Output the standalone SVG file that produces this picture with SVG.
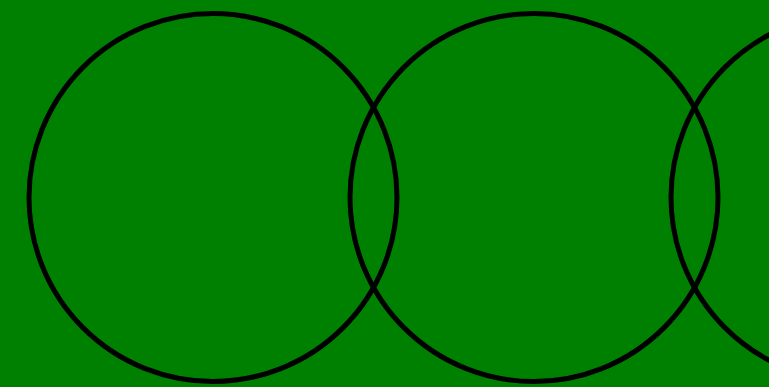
<svg xmlns="http://www.w3.org/2000/svg" width="769" height="387" viewBox="0 0 769 387">
<style>.c{fill:none;stroke:#000;stroke-width:5}</style>
<rect x="0" y="0" width="769" height="387" fill="#008000"/>
<g id="circle1"><circle class="c" cx="213" cy="197.5" r="184"/></g>
<g id="circle2"><circle class="c" cx="534" cy="197.5" r="184"/></g>
<g id="circle3"><circle class="c" cx="855" cy="197.5" r="184"/></g>
<g id="connectors"></g>
</svg>
